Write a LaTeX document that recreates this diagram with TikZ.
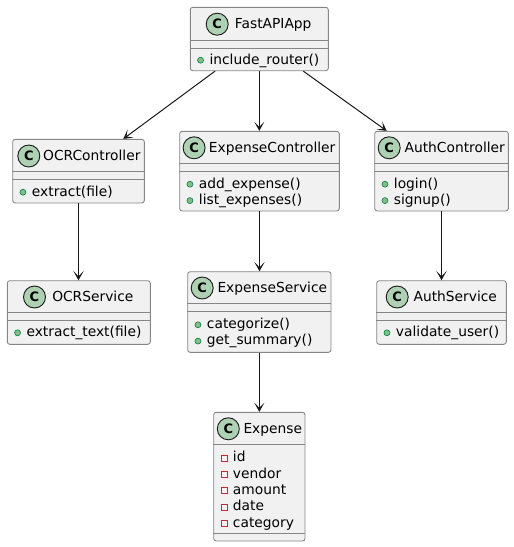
\documentclass[tikz,border=0pt]{standalone}
\usepackage{fontspec}
\setmainfont{DejaVu Sans}
\usetikzlibrary{arrows.meta,calc}
\definecolor{boxfill}{HTML}{F1F1F1}
\definecolor{boxline}{HTML}{868686}
\definecolor{arrline}{HTML}{181818}
\definecolor{spotfill}{HTML}{ADD1B2}
\definecolor{pubfill}{HTML}{84BE84}
\definecolor{publine}{HTML}{038048}
\definecolor{privline}{HTML}{C82930}
\newcommand{\pubm}[4]{%
  \filldraw[pubicon] ($(#2.west |- 0,#3)+(10.7,0)$) circle (3pt);
  \node[member] (#1) at ($(#2.west |- 0,#3)+(19.5,0)$) {#4};}
\newcommand{\privm}[4]{%
  \draw[privicon] ($(#2.west |- 0,#3)+(7.7,-3)$) rectangle ++(6,6);
  \node[member] (#1) at ($(#2.west |- 0,#3)+(19.5,0)$) {#4};}
\newcommand{\seps}[3]{%
  \draw[sepline] (#1.west |- 0,#2) -- (#1.east |- 0,#2);
  \draw[sepline] (#1.west |- 0,#3) -- (#1.east |- 0,#3);}
\newcommand{\header}[5]{%
  \node[spot] (#1c) at (#2,#4+0.5) {C};
  \node[cname] (#1n) at (#3,#4) {#5};}
\tikzset{
  box/.style={rectangle, draw=boxline, line width=0.9pt, fill=boxfill, rounded corners=2.5pt, inner sep=0pt},
  sepline/.style={draw=boxline, line width=0.9pt},
  spot/.style={circle, draw=arrline, line width=0.9pt, fill=spotfill, minimum size=22pt, inner sep=0pt, font=\fontsize{13}{13}\selectfont\bfseries},
  cname/.style={inner sep=0pt, text height=11pt, text depth=1pt, font=\fontsize{13.8}{16}\selectfont},
  member/.style={anchor=west, inner sep=0pt, text height=10.6pt, text depth=3pt, font=\fontsize{13.8}{16}\selectfont},
  pubicon/.style={fill=pubfill, draw=publine, line width=0.6pt},
  privicon/.style={draw=privline, line width=0.8pt},
  dep/.style={draw=arrline, line width=1pt, -{Stealth[length=9pt,width=10pt,inset=5pt]}},
}
\begin{document}
\begin{tikzpicture}[x=1pt,y=-1pt]
\useasboundingbox (0,0) rectangle (514,547);
% boxes
\node[box, minimum width=138pt, minimum height=63.4pt] (fast) at (259.3,39) {};
\node[box, minimum width=131.6pt, minimum height=63.6pt] (ocrc) at (78.5,171.15) {};
\node[box, minimum width=159.6pt, minimum height=79.7pt] (expc) at (259.5,171.15) {};
\node[box, minimum width=133.6pt, minimum height=79.7pt] (authc) at (441.5,171.15) {};
\node[box, minimum width=143pt, minimum height=63.6pt] (ocrs) at (78.8,312.5) {};
\node[box, minimum width=143.3pt, minimum height=80.6pt] (exps) at (259.35,312) {};
\node[box, minimum width=129.6pt, minimum height=63.6pt] (auths) at (441.5,312.5) {};
\node[box, minimum width=91.3pt, minimum height=128.7pt] (expense) at (259.35,476.65) {};
% separators
\seps{fast}{40}{48.3}
\seps{ocrc}{171.7}{179.3}
\seps{expc}{163.3}{171.3}
\seps{authc}{163.3}{171.3}
\seps{ocrs}{312.3}{320}
\seps{exps}{303.3}{311}
\seps{auths}{312.3}{320}
\seps{expense}{444.3}{533.3}
% headers
\header{fast}{217.2}{273.2}{23.7}{FastAPIApp}
\header{ocrc}{28.8}{91.8}{155.5}{OCRController}
\header{expc}{194.1}{272.1}{147.3}{ExpenseController}
\header{authc}{389.2}{454.7}{147.3}{AuthController}
\header{ocrs}{34.5}{92.8}{296.5}{OCRService}
\header{exps}{202.2}{272.3}{287.5}{ExpenseService}
\header{auths}{397.2}{455.3}{296.5}{AuthService}
\header{expense}{228.3}{272.8}{428.3}{Expense}
% members
\pubm{fastm1}{fast}{60.2}{include\_router()}
\pubm{ocrcm1}{ocrc}{192.2}{extract(file)}
\pubm{expcm1}{expc}{184.2}{add\_expense()}
\pubm{expcm2}{expc}{200.6}{list\_expenses()}
\pubm{authcm1}{authc}{184.2}{login()}
\pubm{authcm2}{authc}{200.6}{signup()}
\pubm{ocrsm1}{ocrs}{332.8}{extract\_text(file)}
\pubm{expsm1}{exps}{324.8}{categorize()}
\pubm{expsm2}{exps}{341.1}{get\_summary()}
\pubm{authsm1}{auths}{332.8}{validate\_user()}
\privm{expa1}{expense}{458}{id}
\privm{expa2}{expense}{474.3}{vendor}
\privm{expa3}{expense}{490.6}{amount}
\privm{expa4}{expense}{506.9}{date}
\privm{expa5}{expense}{523.2}{category}
% connectors
\draw[dep] ([xshift=-44.3pt]fast.south) -- ([xshift=44.8pt]ocrc.north);
\draw[dep] (fast.south) -- (fast.south |- expc.north);
\draw[dep] ([xshift=44pt]fast.south) -- ([xshift=-54.8pt]authc.north);
\draw[dep] (ocrc.south) -- (ocrc.south |- ocrs.north);
\draw[dep] (expc.south) -- (expc.south |- exps.north);
\draw[dep] (authc.south) -- (authc.south |- auths.north);
\draw[dep] (exps.south) -- (exps.south |- expense.north);
\end{tikzpicture}
\end{document}
